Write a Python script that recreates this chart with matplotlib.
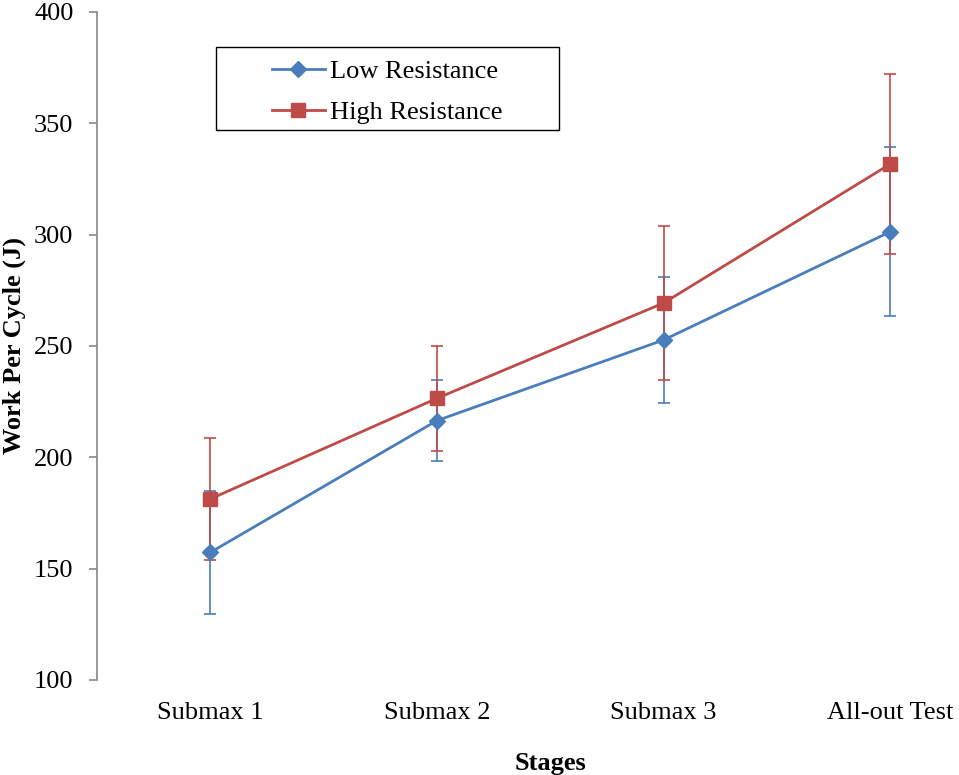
import matplotlib
matplotlib.use("Agg")
import matplotlib.pyplot as plt
from matplotlib.patches import Rectangle

plt.rcParams['font.family'] = ['Liberation Serif', 'DejaVu Serif']

stages = ["Submax 1", "Submax 2", "Submax 3", "All-out Test"]
low_mean = [157.3, 216.5, 252.7, 301.3]
low_err = [27.8, 18.2, 28.1, 38.0]
high_mean = [181.3, 226.5, 269.3, 331.7]
high_err = [27.5, 23.6, 34.4, 40.5]
y_ticks = [100, 150, 200, 250, 300, 350, 400]

blue = "#4A7EBB"
red = "#BE4B48"
axis_grey = "#868686"

W, H = 959, 775
fig = plt.figure(figsize=(W / 100, H / 100), dpi=100)
ax = fig.add_axes([97 / W, 1 - 680 / H, 906.5 / W, 668 / H])

x = list(range(len(stages)))

# error bars underneath, then the connecting lines with markers on top
ax.errorbar(x, low_mean, yerr=low_err, fmt='none', ecolor=blue,
            elinewidth=1.2, capsize=4.4, capthick=1.2, zorder=2)
ax.errorbar(x, high_mean, yerr=high_err, fmt='none', ecolor=red,
            elinewidth=1.2, capsize=4.4, capthick=1.2, zorder=3)
ax.plot(x, low_mean, color=blue, lw=2.0, marker='D', ms=7.8,
        label="Low Resistance", zorder=4)
ax.plot(x, high_mean, color=red, lw=2.0, marker='s', ms=10.5,
        label="High Resistance", zorder=5)

ax.set_xlim(-0.5, 3.5)
ax.set_ylim(100, 400)
ax.set_yticks(y_ticks)
ax.set_xticks(x)
ax.set_xticklabels(stages, fontsize=19)
ax.tick_params(axis='y', labelsize=19, direction='out', length=6,
               width=1.2, color=axis_grey, pad=11)
ax.tick_params(axis='x', length=0, pad=16)

for side in ('top', 'right', 'bottom'):
    ax.spines[side].set_visible(False)
ax.spines['left'].set_color(axis_grey)
ax.spines['left'].set_linewidth(1.2)

ax.set_xlabel("Stages", fontsize=19, fontweight='bold', labelpad=20)
ax.set_ylabel("Work Per Cycle (J)", fontsize=19, fontweight='bold')
ax.yaxis.set_label_coords((26 - 97) / 906.5, 0.5)

# legend box with the entries placed inside it
x0, x1 = (216 - 97) / 906.5, (559 - 97) / 906.5
y0, y1 = (680 - 130) / 668, (680 - 47) / 668
ax.add_patch(Rectangle((x0, y0), x1 - x0, y1 - y0, transform=ax.transAxes,
                       fill=False, edgecolor='black', lw=1.0, zorder=6,
                       clip_on=False))
leg = ax.legend(loc='upper left', bbox_to_anchor=((272 - 97) / 906.5, (680 - 60) / 668),
                frameon=False, fontsize=19, handlelength=2.0, handletextpad=0.2,
                labelspacing=0.64, borderpad=0, borderaxespad=0)

fig.savefig("out.png", dpi=100)
